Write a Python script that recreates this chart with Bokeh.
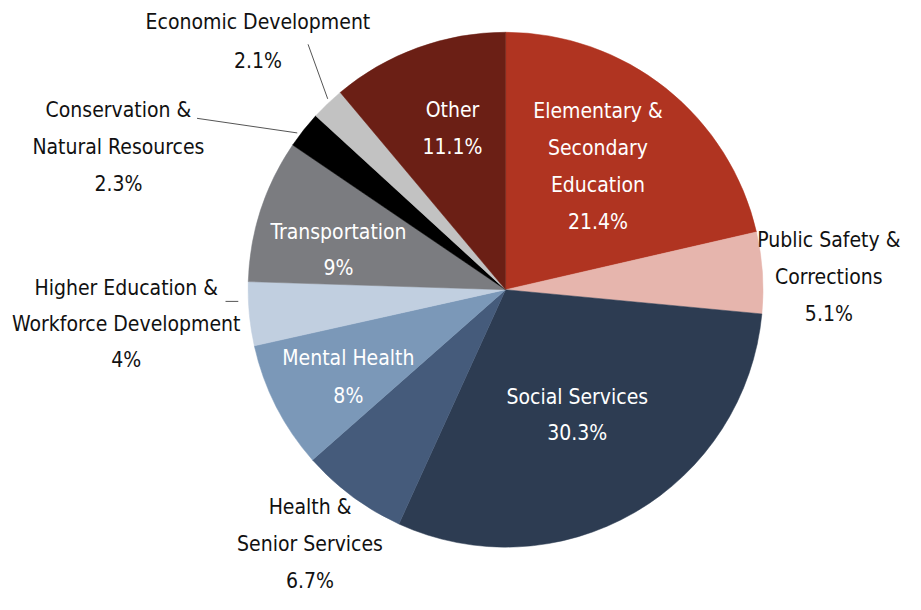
import math
from bokeh.plotting import figure
from bokeh.models import Range1d, ColumnDataSource
from bokeh.core.properties import value
from bokeh.embed import file_html
from bokeh.resources import INLINE

# ---- data ----
categories = ["Elementary & Secondary Education", "Public Safety & Corrections",
              "Social Services", "Health & Senior Services", "Mental Health",
              "Higher Education & Workforce Development", "Transportation",
              "Conservation & Natural Resources", "Economic Development", "Other"]
shares = [21.4, 5.1, 30.3, 6.7, 8.0, 4.0, 9.0, 2.3, 2.1, 11.1]
pct_labels = ["21.4%", "5.1%", "30.3%", "6.7%", "8%", "4%", "9%", "2.3%", "2.1%", "11.1%"]
label_lines = [["Elementary &", "Secondary", "Education"],
               ["Public Safety &", "Corrections"],
               ["Social Services"],
               ["Health &", "Senior Services"],
               ["Mental Health"],
               ["Higher Education &", "Workforce Development"],
               ["Transportation"],
               ["Conservation &", "Natural Resources"],
               ["Economic Development"],
               ["Other"]]
colors = ["#b03421", "#e6b5ad", "#2d3c52", "#455b7b", "#7b98b8",
          "#c1cfe0", "#7b7c80", "#000000", "#c2c2c2", "#6b1f15"]

# ---- layout (reference image pixel coordinates) ----
W, H = 921, 610
CX, CY, R = 514, 297, 262
label_pos = [(608, 113, 38.3, True),
             (843, 246, 38, False),
             (587, 407, 37, True),
             (315, 520, 38, False),
             (354, 367, 39, True),
             (128, 295, 37, False),
             (344, 238, 37, True),
             (120, 112, 38, False),
             (262, 22, 40, False),
             (460, 112, 38, True)]
leaders = [((313, 45), (333, 101)), ((200, 121), (302, 136)), ((229, 309), (242, 309))]

FONT = "'Liberation Sans Narrow', 'DejaVu Sans Condensed', Roboto, sans-serif"
FS = "21px"

p = figure(width=905, height=594, x_range=Range1d(0, W), y_range=Range1d(0, H),
           output_backend="svg", toolbar_location=None, min_border=0)
p.axis.visible = False
p.grid.visible = False
p.outline_line_color = None
p.background_fill_color = "white"

total = sum(shares)
starts, ends = [], []
cum = 0.0
for s in shares:
    starts.append(math.pi / 2 - 2 * math.pi * cum / total)
    cum += s
    ends.append(math.pi / 2 - 2 * math.pi * cum / total)

src = ColumnDataSource(dict(start=starts, end=ends, color=colors, cat=categories))
p.wedge(x=CX, y=H - CY, radius=R, start_angle="start", end_angle="end",
        direction="clock", fill_color="color", line_color="color", line_width=0.5,
        source=src)

for (a, b) in leaders:
    p.line([a[0], b[0]], [H - a[1], H - b[1]], line_color="#555555", line_width=1)

xs, ys, txt, cols = [], [], [], []
for lines, pct, (lx, ly, sp, inside) in zip(label_lines, pct_labels, label_pos):
    allines = lines + [pct]
    for i, t in enumerate(allines):
        xs.append(lx)
        ys.append(H - (ly + i * sp))
        txt.append(t)
        cols.append("white" if inside else "#111111")

p.text(x=xs, y=ys, text=txt, text_color=cols, text_align="center",
       text_baseline="middle", text_font=value(FONT), text_font_size=FS)

open("out.html", "w").write(file_html(p, INLINE))
